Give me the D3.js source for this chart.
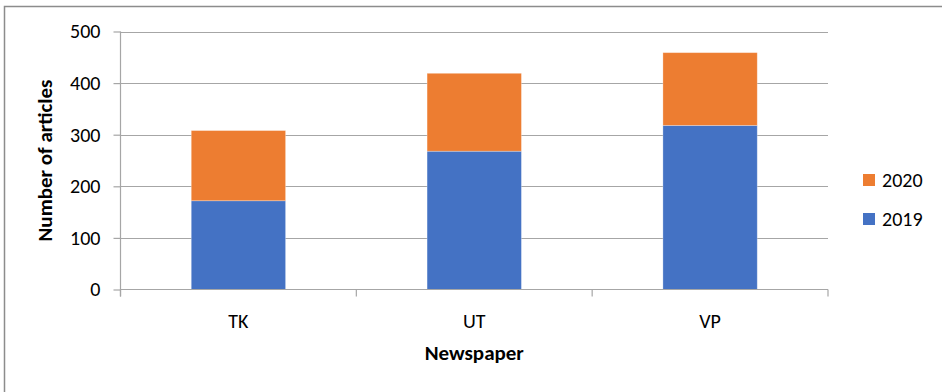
<!DOCTYPE html>
<html>
<head>
<meta charset="utf-8">
<script src="https://cdn.jsdelivr.net/npm/d3@7"></script>
<style>
  html, body { margin: 0; padding: 0; background: #fff; }
  svg { display: block; font-family: Carlito, Lato, "Open Sans", sans-serif; }
</style>
</head>
<body>
<svg id="chart" width="942" height="392"></svg>
<script>
// Articles per newspaper, stacked by year
const newspapers = ["TK", "UT", "VP"];
const years = ["2019", "2020"];
const articles2019 = [172, 268, 318];
const articles2020 = [136, 151, 141];
const yTicks = [0, 100, 200, 300, 400, 500];
const colors = { "2019": "#4472C4", "2020": "#ED7D31" };

const rows = newspapers.map((n, i) => ({ name: n, "2019": articles2019[i], "2020": articles2020[i] }));
const stacked = d3.stack().keys(years)(rows);

const svg = d3.select("#chart");
const plotLeft = 120.5, plotRight = 828, plotTop = 31.5, plotBottom = 289.5;

// Outer frame
svg.append("rect")
  .attr("x", 4.5).attr("y", 6.5).attr("width", 950).attr("height", 400)
  .attr("fill", "none").attr("stroke", "#8c8c8c").attr("stroke-width", 1.5);

const x = d3.scaleBand().domain(newspapers).range([plotLeft, plotRight]).paddingInner(0.6).paddingOuter(0.3);
const y = d3.scaleLinear().domain([0, 500]).range([plotBottom, plotTop]);

// Horizontal gridlines
svg.append("g").selectAll("line").data(yTicks.filter(t => t > 0)).join("line")
  .attr("x1", plotLeft).attr("x2", plotRight)
  .attr("y1", d => Math.round(y(d)) + 0.5).attr("y2", d => Math.round(y(d)) + 0.5)
  .attr("stroke", "#a6a6a6").attr("stroke-width", 1.2);

// Stacked bars
svg.append("g").selectAll("g").data(stacked).join("g")
  .attr("fill", d => colors[d.key])
  .selectAll("rect").data(d => d).join("rect")
  .attr("x", d => x(d.data.name))
  .attr("width", x.bandwidth())
  .attr("y", d => y(d[1]))
  .attr("height", d => y(d[0]) - y(d[1]))
  .attr("stroke", "rgba(255,255,255,0.35)").attr("stroke-width", 0.8);

// Y axis
const yAxis = svg.append("g").attr("transform", `translate(${plotLeft},0)`)
  .call(d3.axisLeft(y).tickValues(yTicks).tickSize(7).tickPadding(13));
yAxis.select(".domain").attr("stroke", "#a6a6a6").attr("stroke-width", 1.2)
  .attr("d", `M0,${plotTop}V${plotBottom + 7}`);
yAxis.selectAll(".tick line").attr("stroke", "#a6a6a6").attr("stroke-width", 1.2);
yAxis.selectAll(".tick text").attr("font-size", 20).attr("fill", "#000")
  .attr("font-family", "Carlito, Lato, 'Open Sans', sans-serif");

// X axis with boundary ticks between categories
const xAxis = svg.append("g").attr("transform", `translate(0,${plotBottom})`);
xAxis.append("line").attr("x1", plotLeft).attr("x2", plotRight).attr("y1", 0).attr("y2", 0)
  .attr("stroke", "#a6a6a6").attr("stroke-width", 1.2);
const step = (plotRight - plotLeft) / newspapers.length;
xAxis.selectAll("line.b").data(d3.range(newspapers.length + 1)).join("line")
  .attr("class", "b")
  .attr("x1", i => plotLeft + i * step).attr("x2", i => plotLeft + i * step)
  .attr("y1", 0).attr("y2", 7)
  .attr("stroke", "#a6a6a6").attr("stroke-width", 1.2);
xAxis.selectAll("text").data(newspapers).join("text")
  .attr("x", d => x(d) + x.bandwidth() / 2).attr("y", 38)
  .attr("text-anchor", "middle").attr("font-size", 20).text(d => d);

// Axis titles
svg.append("text").attr("x", (plotLeft + plotRight) / 2).attr("y", 360)
  .attr("text-anchor", "middle").attr("font-size", 21).attr("font-weight", "bold").text("Newspaper");
svg.append("text").attr("transform", `translate(52,${(plotTop + plotBottom) / 2}) rotate(-90)`)
  .attr("text-anchor", "middle").attr("font-size", 21).attr("font-weight", "bold").text("Number of articles");

// Legend (2020 above 2019)
const legend = svg.append("g").selectAll("g").data(years.slice().reverse()).join("g")
  .attr("transform", (d, i) => `translate(863,${174 + i * 39})`);
legend.append("rect").attr("width", 12).attr("height", 12).attr("fill", d => colors[d]);
legend.append("text").attr("x", 19).attr("y", 13).attr("font-size", 20).text(d => d);
</script>
</body>
</html>
